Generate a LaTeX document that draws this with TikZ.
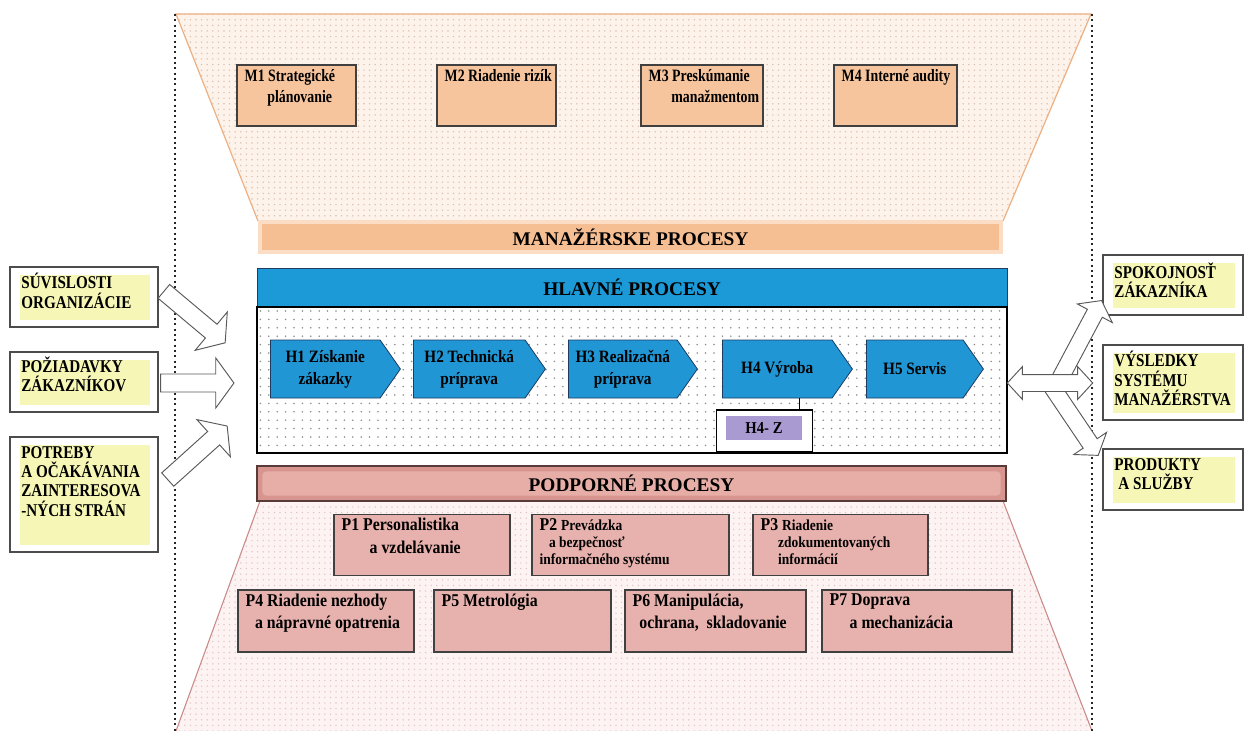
\documentclass[tikz,border=0pt]{standalone}
\usepackage{fontspec}
\setmainfont{Liberation Serif}
\newfontfamily\cnd[FakeStretch=0.88]{Liberation Serif}
\newfontfamily\cndb[FakeStretch=0.84]{Liberation Serif}
\newfontfamily\cndc[FakeStretch=0.8]{Liberation Serif}
\usetikzlibrary{shapes.symbols,shapes.arrows,patterns.meta,calc}
\newcommand{\smf}{\fontsize{11.5}{13}\selectfont}
\definecolor{peach}{HTML}{F7C59D}
\definecolor{peachbar}{HTML}{F5BE93}
\definecolor{peachedge}{HTML}{FBDDC6}
\definecolor{peachline}{HTML}{EDB083}
\definecolor{peachbg}{HTML}{FDF3EA}
\definecolor{peachdot}{HTML}{D9C1B1}
\definecolor{hblue}{HTML}{1B9AD7}
\definecolor{sigblue}{HTML}{2096D5}
\definecolor{sigline}{HTML}{1E3C62}
\definecolor{pinkbox}{HTML}{E7B1AD}
\definecolor{pinkbar}{HTML}{D8948E}
\definecolor{pinkbarin}{HTML}{E7AEA8}
\definecolor{pinkbg}{HTML}{FDF3F3}
\definecolor{pinkdot}{HTML}{E2C6C6}
\definecolor{pinkline}{HTML}{C98A88}
\definecolor{lav}{HTML}{A99AD2}
\definecolor{ylw}{HTML}{F6F6B6}
\tikzset{
  dotline/.style={line width=1.1pt, dash pattern=on 1.4pt off 2.6pt, black!85},
  mbox/.style={draw=black!75, line width=0.9pt, fill=peach, minimum height=45.75pt, inner sep=0pt},
  pbox/.style={draw=black!75, line width=0.9pt, fill=pinkbox, inner sep=0pt},
  mlab/.style={font=\cndc\bfseries\fontsize{13}{15.75}\selectfont, align=left, inner sep=0pt, anchor=north west},
  plab/.style={font=\cnd\bfseries\fontsize{13.5}{17}\selectfont, align=left, inner sep=0pt, anchor=north west},
  barlab/.style={font=\bfseries\fontsize{14.5}{17}\selectfont, inner sep=0pt},
  mbar/.style={barlab, fill=peachedge, minimum width=558.75pt, minimum height=25.5pt,
    path picture={\fill[peachbar] ([shift={(3pt,-3pt)}]path picture bounding box.north west) rectangle ([shift={(-3pt,3pt)}]path picture bounding box.south east);}},
  pbar/.style={barlab, fill=pinkbar, draw=black!60!pinkbar, line width=0.8pt, minimum width=561.75pt, minimum height=26.25pt,
    path picture={\fill[pinkbarin, rounded corners=3pt] ([shift={(4pt,-4pt)}]path picture bounding box.north west) rectangle ([shift={(-4pt,4pt)}]path picture bounding box.south east);}},
  hhead/.style={barlab, fill=hblue, draw=sigline, line width=0.7pt, minimum width=562.5pt, minimum height=28.5pt},
  hbody/.style={draw=black, line width=0.8pt, preaction={fill=white}, pattern={Dots[radius=0.65pt,distance=6.3pt]}, pattern color=black!45, minimum width=562.5pt, minimum height=109.5pt, inner sep=0pt},
  sig/.style={shape=signal, signal to=east, signal from=nowhere, signal pointer angle=110, fill=sigblue, draw=sigline, line width=0.6pt, minimum height=43.5pt, inner xsep=3pt, inner ysep=2pt, font=\cnd\bfseries\fontsize{13}{16.5}\selectfont, align=center, anchor=west},
  sidebox/.style={draw=black!70, line width=1.3pt, fill=white, inner sep=0pt,
    path picture={\fill[ylw] ([shift={(7.5pt,-6pt)}]path picture bounding box.north west) rectangle ([shift={(-6pt,5.5pt)}]path picture bounding box.south east);}},
  sidelab/.style={font=\cndb\bfseries\fontsize{13.5}{14.5}\selectfont, align=left, inner sep=0pt, anchor=north west},
  barrow/.style={single arrow, draw=black!65, fill=white, line width=0.7pt, inner xsep=0pt, single arrow head indent=0pt, single arrow tip angle=108},
  darrow/.style={double arrow, draw=black!65, fill=white, line width=0.7pt, inner xsep=0pt, double arrow head indent=0pt, double arrow tip angle=95},
}
\begin{document}
\begin{tikzpicture}[x=0.75pt,y=-0.75pt]
\useasboundingbox (0,0) rectangle (1245,731);
\fill[white] (0,0) rectangle (1245,731);

% top trapezoid (management)
\fill[peachbg] (176,14) -- (1091,14) -- (1003,221) -- (258,221) -- cycle;
\fill[pattern={Dots[radius=0.6pt,distance=4.2pt]}, pattern color=peachdot] (176,14) -- (1091,14) -- (1003,221) -- (258,221) -- cycle;
\draw[peachline, line width=0.9pt] (258,221) -- (176,14) -- (1091,14) -- (1003,221);

% bottom trapezoid (support)
\fill[pinkbg] (260,501) -- (1003,501) -- (1092,731) -- (176,731) -- cycle;
\fill[pattern={Dots[radius=0.6pt,distance=4.2pt]}, pattern color=pinkdot] (260,501) -- (1003,501) -- (1092,731) -- (176,731) -- cycle;
\draw[pinkline, line width=0.8pt] (260,501) -- (176,731);
\draw[pinkline, line width=0.8pt] (1003,501) -- (1092,731);

% dotted frame
\draw[dotline] (175,14) -- (175,731);
\draw[dotline] (1092,14) -- (1092,731);

% M boxes
\node[mbox, minimum width=89.25pt] (m1) at (296.5,95.5) {};
\node[mbox, minimum width=89.25pt] (m2) at (496.5,95.5) {};
\node[mbox, minimum width=91.5pt] (m3) at (702,95.5) {};
\node[mbox, minimum width=92.25pt] (m4) at (895.5,95.5) {};
\node[mlab] (m1t) at ([shift={(8,5)}]m1.north west) {M1 Strategické\\\hspace*{17pt}plánovanie};
\node[mlab] (m2t) at ([shift={(8,5)}]m2.north west) {M2 Riadenie rizík};
\node[mlab] (m3t) at ([shift={(8,5)}]m3.north west) {M3 Preskúmanie\\\hspace*{17pt}manažmentom};
\node[mlab] (m4t) at ([shift={(8,5)}]m4.north west) {M4 Interné audity};

% bars
\node[mbar] (mp) at (630.5,237) {MANAŽÉRSKE PROCESY};
\node[hhead] (hp) at (632,287) {HLAVNÉ PROCESY};
\node[hbody, anchor=north] (hb) at (hp.south) {};
\node[pbar] (pp) at (631.5,483.5) {PODPORNÉ PROCESY};

% main processes
\node[sig, minimum width=97.5pt] (h1) at (270,369) {H1 Získanie\\zákazky};
\node[sig, minimum width=99pt] (h2) at (413,369) {H2 Technická\\príprava};
\node[sig, minimum width=96.75pt] (h3) at (568,369) {H3 Realizačná\\príprava};
\node[sig, minimum width=97.5pt] (h4) at (722,369) {H4 Výroba};
\node[sig, minimum width=87.75pt] (h5) at (866,369) {H5 Servis};

% H4-Z
\node[draw=black, line width=0.8pt, fill=white, minimum width=72pt, minimum height=31.5pt, inner sep=0pt] (h4zbox) at (764.5,431) {};
\node[fill=lav, minimum width=57pt, minimum height=18pt, inner sep=0pt, font=\cnd\bfseries\fontsize{12.5}{14}\selectfont] (h4z) at (764,428) {H4- Z};
\coordinate (tk) at (799,400);
\draw[line width=0.7pt] (h4.south -| tk) -- (h4zbox.north -| tk);

% P boxes
\node[pbox, minimum width=132pt, minimum height=45.75pt] (p1) at (422,545) {};
\node[pbox, minimum width=147.75pt, minimum height=45.75pt] (p2) at (630.5,545) {};
\node[pbox, minimum width=131.25pt, minimum height=45.75pt] (p3) at (840.5,545) {};
\node[pbox, minimum width=132pt, minimum height=46.5pt] (p4) at (326,621) {};
\node[pbox, minimum width=132.75pt, minimum height=46.5pt] (p5) at (522.5,621) {};
\node[pbox, minimum width=135.75pt, minimum height=46.5pt] (p6) at (715.5,621) {};
\node[pbox, minimum width=142.5pt, minimum height=46.5pt] (p7) at (917,621) {};
\node[plab] (p1t) at ([shift={(8,4)}]p1.north west) {P1 Personalistika\\\hspace*{21pt}a vzdelávanie};
\node[plab] (p2t) at ([shift={(8,4)}]p2.north west) {P2 {\smf Prevádzka}\\[-4pt]\hspace*{7pt}{\smf a bezpečnosť}\\[-4pt]{\smf informačného systému}};
\node[plab] (p3t) at ([shift={(8,4)}]p3.north west) {P3 {\smf Riadenie}\\[-4pt]\hspace*{13pt}{\smf zdokumentovaných}\\[-4pt]\hspace*{13pt}{\smf informácií}};
\node[plab] (p4t) at ([shift={(8,4)}]p4.north west) {P4 Riadenie nezhody\\\hspace*{7pt}a nápravné opatrenia};
\node[plab] (p5t) at ([shift={(8,4)}]p5.north west) {P5 Metrológia};
\node[plab] (p6t) at ([shift={(8,4)}]p6.north west) {P6 Manipulácia,\\\hspace*{5pt}ochrana,\ \ skladovanie};
\node[plab] (p7t) at ([shift={(8,4)}]p7.north west) {P7 Doprava\\\hspace*{15pt}a mechanizácia};

% left boxes
\node[sidebox, minimum width=111pt, minimum height=45pt] (l1) at (84,297) {};
\node[sidebox, minimum width=111pt, minimum height=45pt] (l2) at (84,382) {};
\node[sidebox, minimum width=111pt, minimum height=86.25pt] (l3) at (84,494.5) {};
\node[sidelab] (l1t) at ([shift={(12,7)}]l1.north west) {SÚVISLOSTI\\ORGANIZÁCIE};
\node[sidelab] (l2t) at ([shift={(12,5)}]l2.north west) {POŽIADAVKY\\ZÁKAZNÍKOV};
\node[sidelab] (l3t) at ([shift={(12,10)}]l3.north west) {POTREBY\\A OČAKÁVANIA\\ZAINTERESOVA\\-NÝCH STRÁN};

% right boxes
\node[sidebox, minimum width=105pt, minimum height=45pt] (r1) at (1173,285) {};
\node[sidebox, minimum width=105pt, minimum height=56.25pt] (r2) at (1173,382.5) {};
\node[sidebox, minimum width=105pt, minimum height=45.75pt] (r3) at (1173,479.5) {};
\node[sidelab] (r1t) at ([shift={(12,8)}]r1.north west) {SPOKOJNOSŤ\\ZÁKAZNÍKA};
\node[sidelab] (r2t) at ([shift={(12,7)}]r2.north west) {VÝSLEDKY\\SYSTÉMU\\MANAŽÉRSTVA};
\node[sidelab] (r3t) at ([shift={(12,10)}]r3.north west) {PRODUKTY\\\hspace*{3pt}A SLUŽBY};

% block arrows (left)
\node[barrow, minimum height=60pt, inner ysep=6.4pt, single arrow head extend=12pt, rotate=-40] (a1) at (192,315) {};
\node[barrow, minimum height=55pt, inner ysep=6.4pt, single arrow head extend=12pt] (a2) at (194,383) {};
\node[barrow, minimum height=60pt, inner ysep=6.4pt, single arrow head extend=12pt, rotate=42] (a3) at (195,455) {};

% block arrows (right)
\node[barrow, minimum height=67.5pt, inner ysep=6pt, single arrow head extend=8.5pt, rotate=62] (a4) at (1079,343) {};
\node[barrow, minimum height=63pt, inner ysep=6pt, single arrow head extend=8.5pt, rotate=-56] (a5) at (1073,418) {};
\node[darrow, minimum height=64pt, inner ysep=6pt, double arrow head extend=6pt] (a6) at (1050,383) {};
\end{tikzpicture}
\end{document}
